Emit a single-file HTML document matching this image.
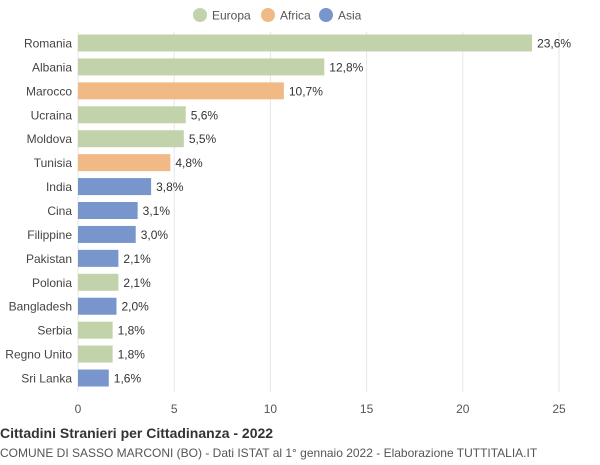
<!DOCTYPE html>
<html><head><meta charset="utf-8"><style>
body{margin:0;background:#fff;font-family:"Liberation Sans",sans-serif}
</style></head><body>
<svg width="600" height="460" viewBox="0 0 600 460" xmlns="http://www.w3.org/2000/svg" font-family="Liberation Sans, sans-serif">
<g id="legend"></g>
<g id="grid"></g>
<g id="bars"></g>
<text x="0" y="438" font-size="14" font-weight="bold" fill="#333">Cittadini Stranieri per Cittadinanza - 2022</text>
<text x="0" y="457" font-size="12" fill="#555">COMUNE DI SASSO MARCONI (BO) - Dati ISTAT al 1° gennaio 2022 - Elaborazione TUTTITALIA.IT</text>
</svg>
<script>
const categories=["Romania","Albania","Marocco","Ucraina","Moldova","Tunisia","India","Cina","Filippine","Pakistan","Polonia","Bangladesh","Serbia","Regno Unito","Sri Lanka"];
const values=[23.6,12.8,10.7,5.6,5.5,4.8,3.8,3.1,3.0,2.1,2.1,2.0,1.8,1.8,1.6];
const continents=["Europa","Europa","Africa","Europa","Europa","Africa","Asia","Asia","Asia","Asia","Europa","Asia","Europa","Europa","Asia"];
const legendNames=["Europa","Africa","Asia"];
const ticks=[0,5,10,15,20,25];
const colors={Europa:"#c2d3ab",Africa:"#f0b986",Asia:"#7896cc"};
const NS="http://www.w3.org/2000/svg";
const x=v=>78+v*(481/25);
const y=i=>43+i*23.93;
function mk(t,a,p){const e=document.createElementNS(NS,t);for(const k in a)e.setAttribute(k,a[k]);p.appendChild(e);return e;}
const grid=document.getElementById('grid');
ticks.forEach(t=>{
 const l=mk('line',{x1:x(t),x2:x(t),y1:32,y2:392,stroke:"#e6e6e6","stroke-width":1},grid);
 
 
 const tx=mk('text',{x:x(t),y:413,"font-size":12,fill:"#555","text-anchor":"middle"},grid);
 tx.textContent=t;
 
 
});
const bars=document.getElementById('bars');
categories.forEach((c,i)=>{
 const r=mk('rect',{x:x(0),y:y(i)-8.5,width:x(values[i])-x(0),height:17,fill:colors[continents[i]]},bars);
 
 
 const lb=mk('text',{x:72,y:y(i)+4.5,"font-size":12,fill:"#444","text-anchor":"end"},bars);
 lb.textContent=c;
 
 
 const vl=mk('text',{x:x(values[i])+5,y:y(i)+4.5,"font-size":12,fill:"#333"},bars);
 vl.textContent=values[i].toFixed(1).replace('.',',')+'%';
 
 
});
const lg=document.getElementById('legend');
const lx=[200,268,326];
legendNames.forEach((n,i)=>{
 const c=mk('circle',{cx:lx[i],cy:15,r:7,fill:colors[n]},lg);
 
 
 const t=mk('text',{x:lx[i]+12,y:19.5,"font-size":12,fill:"#555"},lg);
 t.textContent=n;
 
 
});
</script>
</body></html>
